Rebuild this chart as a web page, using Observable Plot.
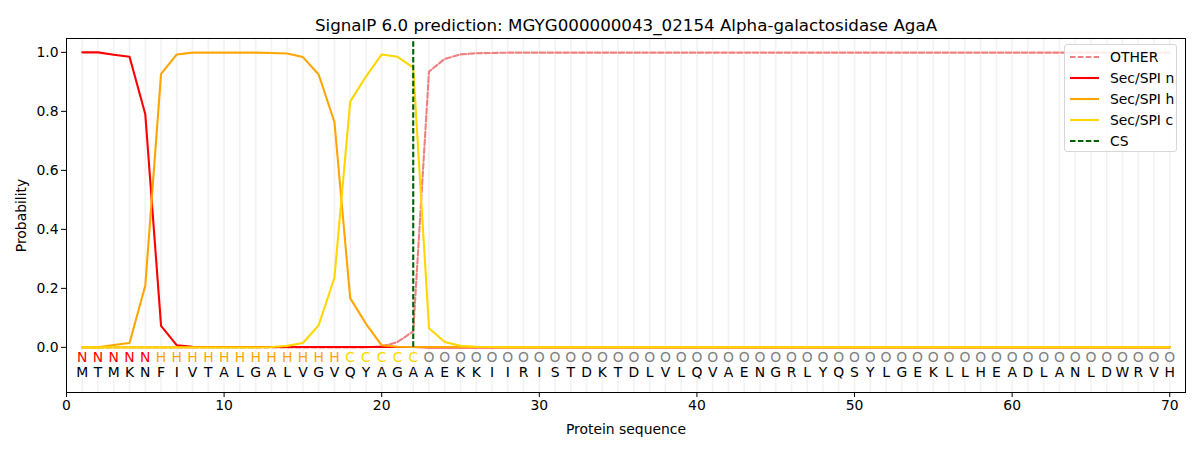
<!DOCTYPE html>
<html>
<head>
<meta charset="utf-8">
<script src="https://cdn.jsdelivr.net/npm/d3@7"></script>
<script src="https://cdn.jsdelivr.net/npm/@observablehq/plot@0.6"></script>
<style>
  html, body { margin: 0; padding: 0; background: #fff; }
  #wrap { position: relative; width: 1200px; height: 450px; font-family: "DejaVu Sans", sans-serif; }
  #legend { position: absolute; left: 1064px; top: 44px; width: 113px; height: 108px;
    border: 1px solid #d6d6d6; border-radius: 3px; background: rgba(255,255,255,0.85); box-sizing: border-box; }
  #legend .row { position: absolute; left: 0; height: 20px; display: flex; align-items: center; font-size: 13.9px; color: #000; }
  #legend svg { margin-left: 5px; margin-right: 11px; }
</style>
</head>
<body>
<div id="wrap"></div>
<script>
const title = "SignalP 6.0 prediction: MGYG000000043_02154 Alpha-galactosidase AgaA";
const sequence = "MTMKNFIVTALGALVGVQYAGAAEKKIIRISTDKTDLVLQVAENGRLYQSYLGEKLLHEADLANLDWRVH";
const regionLabels = "NNNNNHHHHHHHHHHHHCCCCCOOOOOOOOOOOOOOOOOOOOOOOOOOOOOOOOOOOOOOOOOOOOOOOO";
const labelColors = {N: "red", H: "orange", C: "gold", O: "gray"};

const otherProb = [
  0,0,0,0,0,0,0,0,0,0,
  0,0,0,0,0,0,0,0,0,0.003,
  0.018,0.054,0.935,0.978,0.993,0.997,0.998,0.999,0.999,0.999,
  0.999,0.999,0.999,0.999,0.999,0.999,0.999,0.999,0.999,0.999,
  0.999,0.999,0.999,0.999,0.999,0.999,0.999,0.999,0.999,0.999,
  0.999,0.999,0.999,0.999,0.999,0.999,0.999,0.999,0.999,0.999,
  0.999,0.999,0.999,0.999,0.999,0.999,0.999,0.999,0.999,0.999
];
const secNProb = [
  1.000,1.000,0.992,0.985,0.790,0.073,0.007,0.002,0.001,0.001,
  0.001,0.001,0.001,0.001,0.001,0.001,0.001,0.001,0.001,0.001,
  0.001,0.001,0,0,0,0,0,0,0,0,
  0,0,0,0,0,0,0,0,0,0,
  0,0,0,0,0,0,0,0,0,0,
  0,0,0,0,0,0,0,0,0,0,
  0,0,0,0,0,0,0,0,0,0
];
const secHProb = [
  0,0,0.008,0.015,0.210,0.927,0.993,0.999,0.999,0.999,
  0.999,0.999,0.998,0.996,0.984,0.925,0.764,0.167,0.080,0.007,
  0.002,0.001,0.001,0.001,0.001,0.001,0.001,0.001,0.001,0.001,
  0.001,0.001,0.001,0.001,0.001,0.001,0.001,0.001,0.001,0.001,
  0.001,0.001,0.001,0.001,0.001,0.001,0.001,0.001,0.001,0.001,
  0.001,0.001,0.001,0.001,0.001,0.001,0.001,0.001,0.001,0.001,
  0.001,0.001,0.001,0.001,0.001,0.001,0.001,0.001,0.001,0.001
];
const secCProb = [
  0,0,0,0,0,0,0,0,0,0,
  0,0,0.001,0.005,0.015,0.075,0.236,0.833,0.918,0.993,
  0.985,0.948,0.065,0.018,0.005,0.002,0.001,0,0,0,
  0,0,0,0,0,0,0,0,0,0,
  0,0,0,0,0,0,0,0,0,0,
  0,0,0,0,0,0,0,0,0,0,
  0,0,0,0,0,0,0,0,0,0
];
const csPosition = 22;
const csSpan = [0, 1.04];
const xTicks = [0, 10, 20, 30, 40, 50, 60, 70];
const yTicks = [0, 0.2, 0.4, 0.6, 0.8, 1.0];

const series = [
  {name: "OTHER", values: otherProb, color: "lightcoral", dash: "5.5,2.4"},
  {name: "Sec/SPI n", values: secNProb, color: "red", dash: null},
  {name: "Sec/SPI h", values: secHProb, color: "orange", dash: null},
  {name: "Sec/SPI c", values: secCProb, color: "gold", dash: null}
];

const residues = Array.from(sequence, (aa, i) => ({pos: i + 1, aa, region: regionLabels[i]}));

const lineMarks = series.map(s => Plot.line(
  s.values.map((v, i) => ({pos: i + 1, p: v})),
  {x: "pos", y: "p", stroke: s.color, strokeWidth: 2.1, strokeDasharray: s.dash || undefined}
));

const chart = Plot.plot({
  width: 1200,
  height: 450,
  marginLeft: 66,
  marginRight: 15,
  marginTop: 38,
  marginBottom: 58,
  style: {fontFamily: "DejaVu Sans, sans-serif", fontSize: "13.9px", color: "#000", background: "#fff"},
  x: {domain: [0, 71]},
  y: {domain: [-0.153, 1.047]},
  marks: [
    Plot.ruleX(residues, {x: "pos", stroke: "#ededed", strokeWidth: 1.6, strokeOpacity: 0.75}),
    ...lineMarks,
    Plot.ruleX([csPosition], {y1: csSpan[0], y2: csSpan[1], stroke: "darkgreen", strokeWidth: 2.1, strokeDasharray: "5.5,2.4"}),
    Plot.text(residues, {x: "pos", frameAnchor: "bottom", dy: -31, text: "region",
      fill: d => labelColors[d.region], fontSize: 13.9}),
    Plot.text(residues, {x: "pos", frameAnchor: "bottom", dy: -16, text: "aa", fill: "#000", fontSize: 13.9}),
    Plot.frame({stroke: "#000", strokeWidth: 1}),
    Plot.axisX({ticks: xTicks, tickSize: 5, tickPadding: 3, label: "Protein sequence",
      labelAnchor: "center", labelArrow: "none", labelOffset: 41, fontSize: 13.9}),
    Plot.axisY({ticks: yTicks, tickFormat: d3.format(".1f"), tickSize: 5, tickPadding: 3, label: "Probability",
      labelAnchor: "center", labelArrow: "none", labelOffset: 50, fontSize: 13.9}),
    Plot.text([title], {frameAnchor: "top", dy: -19, text: d => d, fontSize: 16.7, fill: "#000"})
  ]
});

const wrap = document.getElementById("wrap");
wrap.appendChild(chart);

// legend
const legend = document.createElement("div");
legend.id = "legend";
const entries = [...series, {name: "CS", color: "darkgreen", dash: "5.5,2.4"}];
entries.forEach((s, i) => {
  const row = document.createElement("div");
  row.className = "row";
  row.style.top = (2 + i * 21) + "px";
  row.innerHTML = `<svg width="29" height="10"><line x1="0" x2="29" y1="5" y2="5" stroke="${s.color}" stroke-width="2.1" ${s.dash ? `stroke-dasharray="${s.dash}"` : ""}/></svg><span>${s.name}</span>`;
  legend.appendChild(row);
});
wrap.appendChild(legend);
</script>
</body>
</html>
